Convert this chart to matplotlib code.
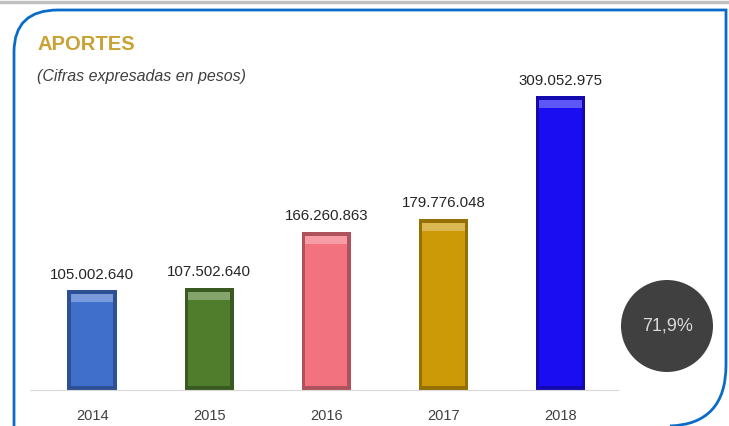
import matplotlib.pyplot as plt
from matplotlib.path import Path
from matplotlib.patches import PathPatch, Circle
from matplotlib.lines import Line2D
import matplotlib.colors as mcolors

# data
years = ['2014', '2015', '2016', '2017', '2018']
aportes = [105002640, 107502640, 166260863, 179776048, 309052975]
bar_colors = ['#3F6FCB', '#4F7D2C', '#F2727F', '#CC9A06', '#1A0DF2']
variacion = '71,9%'

W, H = 729, 426
fig = plt.figure(figsize=(W / 100, H / 100), dpi=100)
fig.patch.set_facecolor('white')

# gray line at the very top
fig.add_artist(Line2D([0, 1], [1 - 2 / H, 1 - 2 / H], color='#C0C0C0', lw=2.5))

def fx(px):
    return px / W

def fy(py):
    return 1 - py / H

# blue frame: rounded top-left and bottom-right corners
verts = [(fx(14), fy(430)), (fx(14), fy(52)),
         (fx(14), fy(10)), (fx(58), fy(10)),
         (fx(726), fy(10)), (fx(726), fy(365)),
         (fx(726), fy(424)), (fx(670), fy(426))]
codes = [Path.MOVETO, Path.LINETO, Path.CURVE3, Path.CURVE3,
         Path.LINETO, Path.LINETO, Path.CURVE3, Path.CURVE3]
fig.add_artist(PathPatch(Path(verts, codes), transform=fig.transFigure,
                         fill=False, edgecolor='#0A6CC8', lw=2))

fig.text(fx(37), fy(45), 'APORTES', fontsize=14.5, fontweight='bold',
         color='#C9A233', family='Liberation Sans', va='center')
fig.text(fx(37), fy(76), '(Cifras expresadas en pesos)', fontsize=11.5,
         style='italic', color='#404040', family='Liberation Sans', va='center')

ax = fig.add_axes([fx(30), fy(390), fx(618) - fx(30), fy(60) - fy(390)])
ax.set_xlim(-0.53, 4.49)
ax.set_ylim(0, 347e6)
ax.set_facecolor('none')

x = list(range(len(years)))
bw = 0.42
edge_y = 4e6
for xi, v, c in zip(x, aportes, bar_colors):
    rgb = mcolors.to_rgb(c)
    dark = tuple(ch * 0.72 for ch in rgb)
    light = tuple(ch + (1 - ch) * 0.3 for ch in rgb)
    ax.bar(xi, v, width=bw, color=dark, zorder=2)
    ax.bar(xi, v - 2 * edge_y, bottom=edge_y, width=bw * 0.86, color=c, zorder=3)
    ax.bar(xi, edge_y * 2.2, bottom=v - edge_y * 3.2, width=bw * 0.86,
           color=light, zorder=4)
    ax.text(xi, v + 9e6, f'{v:,}'.replace(',', '.'), ha='center', va='bottom',
            fontsize=10.8, color='#262626', family='Liberation Sans')

ax.set_xticks(x)
ax.set_xticklabels(years, fontsize=10.5, color='#404040', family='Liberation Sans')
ax.tick_params(axis='x', length=0, pad=14)
ax.set_yticks([])
for s in ['top', 'right', 'left']:
    ax.spines[s].set_visible(False)
ax.spines['bottom'].set_color('#D9D9D9')

# circle with the growth figure, round in pixel space
circ = Circle((667, H - 326), 46, transform=None, facecolor='#404040', edgecolor='none')
fig.add_artist(circ)
fig.text(fx(668), fy(326), variacion, ha='center', va='center', fontsize=13,
         color='#D9D9D9', family='Liberation Sans')

fig.savefig('out.png', dpi=100)
